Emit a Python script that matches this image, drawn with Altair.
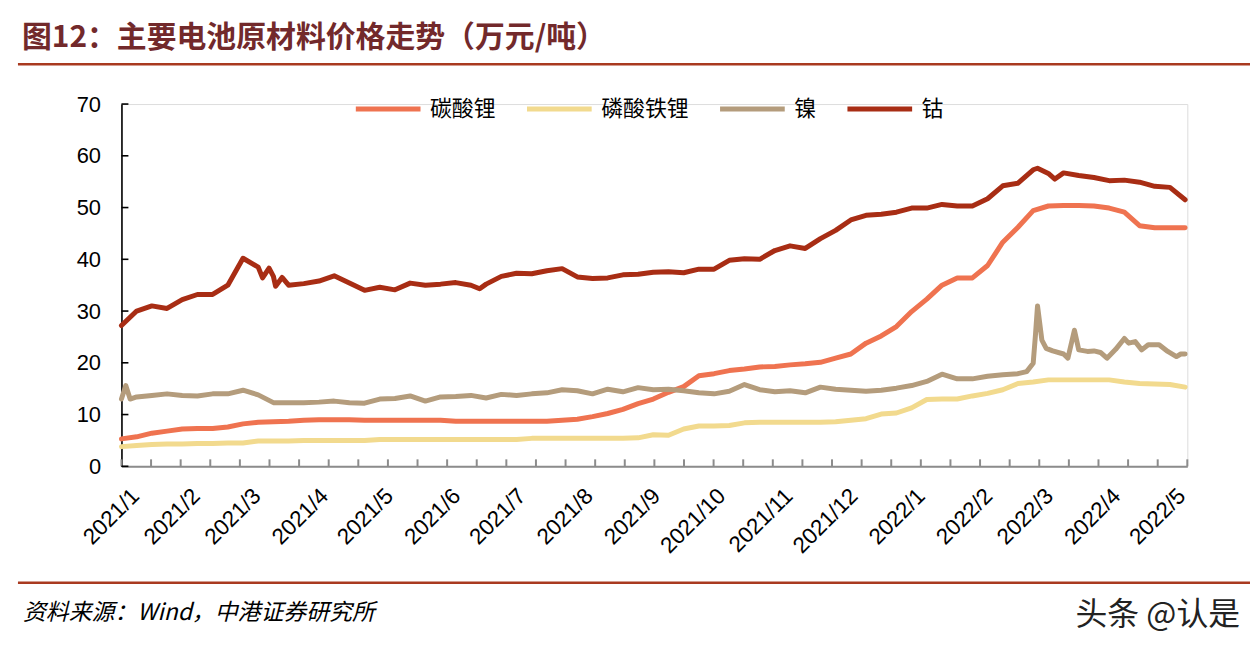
import altair as alt
import pandas as pd

# ---------------- data ----------------
series_names = ["碳酸锂", "磷酸铁锂", "镍", "钴"]
series_colors = ["#EF7350", "#F2DA8E", "#B49C7C", "#A82D14"]

# weekly observation dates (Mondays) 2021-01-04 .. 2022-05-09
weekly_dates = pd.date_range("2021-01-04", periods=71, freq="7D").strftime("%Y-%m-%d").tolist()

cobalt = [27.2, 30.0, 31.0, 30.5, 32.2, 33.2, 33.2, 35.0, 40.2, 38.5,
          36.7, 35.0, 35.3, 35.8, 36.8, 35.4, 34.0, 34.6, 34.1, 35.4,
          35.0, 35.2, 35.5, 35.0, 35.2, 36.7, 37.3, 37.2, 37.8, 38.2,
          36.6, 36.3, 36.4, 37.0, 37.1, 37.5, 37.6, 37.4, 38.1, 38.1,
          39.8, 40.1, 40.0, 41.7, 42.6, 42.1, 44.0, 45.6, 47.6, 48.5,
          48.7, 49.1, 49.9, 49.9, 50.6, 50.3, 50.3, 51.7, 54.2, 54.7,
          57.3, 56.6, 56.7, 56.2, 55.8, 55.2, 55.3, 54.9, 54.1, 53.9, 51.5]
# extra cobalt observations where the price moved quickly
cobalt_extra_dates = ["2021-03-10", "2021-03-13", "2021-03-16", "2021-03-19",
                      "2021-06-18", "2022-03-02", "2022-03-10"]
cobalt_extra = [36.4, 38.3, 34.8, 36.5,
                34.3, 57.6, 55.5]

li_carbonate = [5.3, 5.7, 6.4, 6.8, 7.2, 7.3, 7.3, 7.6, 8.2, 8.5,
                8.6, 8.7, 8.9, 9.0, 9.0, 9.0, 8.9, 8.9, 8.9, 8.9,
                8.9, 8.9, 8.7, 8.7, 8.7, 8.7, 8.7, 8.7, 8.7, 8.9,
                9.1, 9.6, 10.2, 11.0, 12.1, 13.0, 14.3, 15.4, 17.5, 17.9,
                18.5, 18.8, 19.2, 19.3, 19.6, 19.8, 20.1, 20.9, 21.7, 23.8,
                25.2, 27.0, 29.9, 32.3, 35.0, 36.4, 36.4, 38.8, 43.3, 46.2,
                49.4, 50.3, 50.4, 50.4, 50.3, 49.9, 49.1, 46.5, 46.1, 46.1, 46.1]

lfp = [3.8, 4.0, 4.2, 4.3, 4.3, 4.4, 4.4, 4.5, 4.5, 4.9,
       4.9, 4.9, 5.0, 5.0, 5.0, 5.0, 5.0, 5.2, 5.2, 5.2,
       5.2, 5.2, 5.2, 5.2, 5.2, 5.2, 5.2, 5.4, 5.4, 5.4,
       5.4, 5.4, 5.4, 5.4, 5.5, 6.1, 6.0, 7.2, 7.8, 7.8,
       7.9, 8.4, 8.5, 8.5, 8.5, 8.5, 8.5, 8.6, 8.9, 9.2,
       10.1, 10.3, 11.3, 12.9, 13.0, 13.0, 13.6, 14.1, 14.8, 16.0,
       16.3, 16.7, 16.7, 16.7, 16.7, 16.7, 16.3, 16.0, 15.9, 15.8, 15.3]

# nickel: a few daily points at the start, weekly in between, denser tail
nickel_head_dates = ["2021-01-04", "2021-01-06", "2021-01-08"]
nickel_head = [13.0, 15.6, 13.0]
nickel_mid_dates = weekly_dates[1:59]
nickel_mid = [13.4, 13.7, 14.0, 13.7, 13.6, 14.0, 14.0, 14.7, 13.8, 12.3,
              12.3, 12.3, 12.4, 12.6, 12.3, 12.2, 13.0, 13.1, 13.6, 12.6,
              13.4, 13.5, 13.7, 13.2, 13.9, 13.7, 14.0, 14.2, 14.8, 14.6,
              14.0, 14.9, 14.4, 15.2, 14.8, 14.9, 14.6, 14.2, 14.0, 14.5,
              15.8, 14.8, 14.4, 14.6, 14.2, 15.3, 14.9, 14.7, 14.5, 14.7,
              15.1, 15.6, 16.4, 17.8, 16.9, 16.9, 17.4, 17.7]
nickel_tail_dates = ["2022-02-21", "2022-02-25", "2022-02-28", "2022-03-01", "2022-03-02",
                     "2022-03-04", "2022-03-06", "2022-03-09", "2022-03-14", "2022-03-16",
                     "2022-03-19", "2022-03-21", "2022-03-25", "2022-03-28", "2022-03-31",
                     "2022-04-03", "2022-04-07", "2022-04-11", "2022-04-13", "2022-04-16",
                     "2022-04-19", "2022-04-22", "2022-04-27", "2022-05-01", "2022-05-05",
                     "2022-05-07", "2022-05-09"]
nickel_tail = [17.9, 18.3, 19.9, 25.1, 31.0,
               24.4, 22.8, 22.3, 21.7, 20.9,
               26.3, 22.5, 22.2, 22.3, 22.0,
               20.9, 22.6, 24.7, 23.8, 24.1,
               22.5, 23.5, 23.5, 22.2, 21.2,
               21.7, 21.7]

month_labels = ["2021-01-04", "2021-02-01", "2021-03-01", "2021-04-01", "2021-05-01",
                "2021-06-01", "2021-07-01", "2021-08-01", "2021-09-01", "2021-10-01",
                "2021-11-01", "2021-12-01", "2022-01-01", "2022-02-01", "2022-03-01",
                "2022-04-01", "2022-05-01"]
y_ticks = [0, 10, 20, 30, 40, 50, 60, 70]

title_text = "图12：主要电池原材料价格走势（万元/吨）"
source_text = "资料来源：Wind，中港证券研究所"
watermark_text = "头条 @认是"

X_START, X_END = "2021-01-04", "2022-05-10"


def ms(s):
    return int(pd.Timestamp(s, tz="UTC").value // 10**6)


# ---------------- frames ----------------
def frame(name, dates, vals):
    df = pd.DataFrame({"date": dates, "value": vals, "series": name})
    return df.sort_values("date").reset_index(drop=True)

df_li = frame("碳酸锂", weekly_dates, li_carbonate)
df_lfp = frame("磷酸铁锂", weekly_dates, lfp)
df_ni = frame("镍", nickel_head_dates + nickel_mid_dates + nickel_tail_dates,
              nickel_head + nickel_mid + nickel_tail)
df_co = frame("钴", weekly_dates + cobalt_extra_dates, cobalt + cobalt_extra)

minor_ticks = pd.DataFrame({"t": [int(v) for v in
                                  pd.date_range(X_START, X_END, periods=37, tz="UTC").astype("int64") // 10**6]})
ytick_df = pd.DataFrame({"v": y_ticks})

W, H = 1071, 364

x_scale = alt.Scale(type="utc", domain=[ms(X_START), ms(X_END)])
y_scale = alt.Scale(domain=[0, 70], nice=False, zero=True)

x_axis = alt.Axis(values=[ms(d) for d in month_labels],
                  labelExpr="utcFormat(datum.value, '%Y/%-m')",
                  labelAngle=315, labelAlign="right", labelBaseline="top",
                  labelFont="Liberation Sans", labelFontSize=22.5, labelColor="#000",
                  labelPadding=18, labelOffset=6, ticks=False, tickSize=0,
                  domainColor="#8C8C8C", domainWidth=2, grid=False, title=None,
                  labelOverlap=False, labelBound=False)
y_axis = alt.Axis(values=y_ticks, labelFont="Liberation Sans", labelFontSize=22,
                  labelColor="#000", labelPadding=21, ticks=False, tickSize=0,
                  domainColor="#000", domainWidth=1.6, grid=False, title=None)

legend = alt.Legend(orient="none", legendX=233, legendY=-30, direction="horizontal",
                    title=None, symbolType="stroke", symbolSize=4225, symbolStrokeWidth=5,
                    labelFont="Noto Sans CJK SC", labelFontSize=22, labelColor="#000",
                    labelOffset=7, columnPadding=20, padding=0, labelLimit=300)

color = alt.Color("series:N", scale=alt.Scale(domain=series_names, range=series_colors),
                  legend=legend)


def line_layer(df):
    return alt.Chart(df).mark_line(strokeWidth=5, strokeCap="round", strokeJoin="round").encode(
        x=alt.X("date:T", scale=x_scale, axis=x_axis),
        y=alt.Y("value:Q", scale=y_scale, axis=y_axis),
        color=color,
    )

xticks = alt.Chart(minor_ticks).mark_rule(color="#8C8C8C", strokeWidth=2).encode(
    x=alt.X("t:T", scale=x_scale, axis=x_axis),
    y=alt.value(H), y2=alt.value(H - 7),
)
yticks = alt.Chart(ytick_df).mark_rule(color="#000", strokeWidth=1.6).encode(
    y=alt.Y("v:Q", scale=y_scale, axis=y_axis),
    x=alt.value(0), x2=alt.value(7),
)

one = pd.DataFrame({"a": [0]})
title_rule = alt.Chart(one).mark_rule(color="#A93A20", strokeWidth=2.5).encode(
    x=alt.value(-104), x2=alt.value(1134), y=alt.value(-40))
foot_rule = alt.Chart(one).mark_rule(color="#A93A20", strokeWidth=2.5).encode(
    x=alt.value(-104), x2=alt.value(1134), y=alt.value(481))

title = alt.Chart(pd.DataFrame({"t": [title_text]})).mark_text(
    font="Noto Sans CJK SC", fontWeight="bold", fontSize=30, color="#72292B",
    align="left", baseline="middle").encode(x=alt.value(-100), y=alt.value(-66), text="t:N")
source = alt.Chart(pd.DataFrame({"t": [source_text]})).mark_text(
    font="Noto Sans CJK SC", fontStyle="italic", fontSize=23, color="#000",
    align="left", baseline="middle").encode(x=alt.value(-99), y=alt.value(511), text="t:N")
watermark = alt.Chart(pd.DataFrame({"t": [watermark_text]})).mark_text(
    font="Noto Sans CJK SC", fontSize=32, color="#222",
    align="right", baseline="middle").encode(x=alt.value(1124), y=alt.value(513), text="t:N")

chart = alt.layer(
    xticks, yticks,
    line_layer(df_li), line_layer(df_lfp), line_layer(df_ni), line_layer(df_co),
    title_rule, foot_rule, title, source, watermark,
).properties(
    width=W, height=H,
    padding={"left": 114, "top": 95, "right": 63, "bottom": 170},
    autosize=alt.AutoSizeParams(type="none"),
).configure_view(strokeWidth=0).configure(background="white")

chart.save("out.html", embed_options={"renderer": "svg", "actions": False})
